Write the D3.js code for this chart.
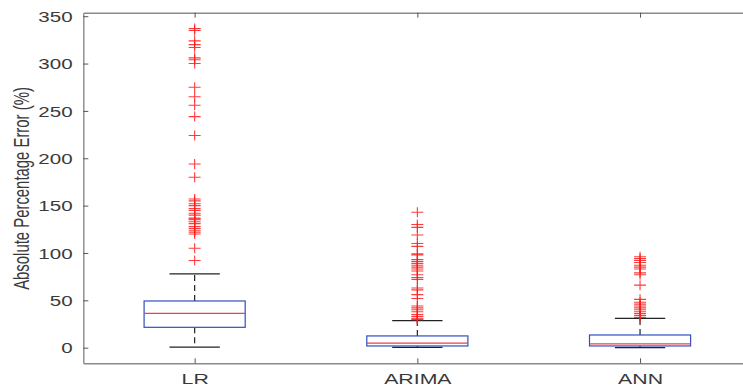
<!DOCTYPE html>
<html>
<head>
<meta charset="utf-8">
<script src="https://cdn.jsdelivr.net/npm/d3@7"></script>
<style>
  html, body { margin: 0; padding: 0; background: #fff; }
  svg { display: block; }
</style>
</head>
<body>
<script>
// Box plot of absolute percentage error per forecasting model
const categories = ["LR", "ARIMA", "ANN"];
const whiskerLow  = [0.5, 0.3, 0.1];
const q1          = [21.5, 1.8, 1.8];
const medians     = [36.3, 4.8, 4.0];
const q3          = [49.3, 12.4, 13.4];
const whiskerHigh = [78, 28.5, 31];

const outliersLR = [337, 335, 324, 320, 317, 306, 304, 300, 275, 265, 256, 244, 224,
  194, 180, 157, 155, 152, 150, 147, 145, 142, 140, 137, 136, 135, 133, 131, 128,
  126, 124, 122, 120, 105, 92];
const outliersARIMA = [143, 130, 127, 119, 110, 107, 99, 98, 93, 91, 89, 87, 85, 83,
  81, 77, 74, 72, 63, 61, 56, 52, 44, 42, 40, 38, 35, 33, 31, 30, 29.5];
const outliersANN = [96, 94, 92, 90, 87, 85, 83, 79, 77, 66, 51, 48, 46, 44, 42, 40,
  38, 36, 34, 32];
const outliers = [outliersLR, outliersARIMA, outliersANN];

const yTicks = [0, 50, 100, 150, 200, 250, 300, 350];
const yLabel = "Absolute Percentage Error (%)";

const W = 743, H = 388;
const mLeft = 83.3, mTop = 12.7, mBottom = 363.3, mRight = 751.4;
const stretch = 1.42;           // horizontal text stretch
const textColor = "#3a3a3a";
const axisColor = "#8a8a8a";
const font = "'Liberation Sans', Arial, Helvetica, sans-serif";

const svg = d3.select("body").append("svg")
  .attr("width", W).attr("height", H);

const x = d3.scaleLinear().domain([0.5, 3.5]).range([mLeft, mRight]);
const y = d3.scaleLinear().domain([-16.5, 353.7]).range([mBottom, mTop]);

const boxHalf = 0.227, capHalf = 0.113;

// Axes
const yAxis = svg.append("g")
  .attr("transform", `translate(${mLeft},0)`)
  .call(d3.axisLeft(y).tickValues(yTicks).tickSizeInner(-5).tickSizeOuter(0));

const xAxis = svg.append("g")
  .attr("transform", `translate(0,${mBottom})`)
  .call(d3.axisBottom(x).tickValues([1, 2, 3])
    .tickFormat(d => categories[d - 1]).tickSizeInner(-5).tickSizeOuter(0));

const topAxis = svg.append("g")
  .attr("transform", `translate(0,${mTop})`)
  .call(d3.axisTop(x).tickValues([1, 2, 3]).tickFormat("")
    .tickSizeInner(-5).tickSizeOuter(0));

[yAxis, xAxis, topAxis].forEach(g => {
  g.select(".domain").attr("stroke", axisColor).attr("stroke-width", 1.4);
  g.selectAll(".tick line").attr("stroke", "#555").attr("stroke-width", 1);
});

yAxis.selectAll(".tick text")
  .attr("x", -7.5).attr("dy", "0.36em")
  .attr("transform", `scale(${stretch},1)`)
  .attr("fill", textColor)
  .style("font-family", font).style("font-size", "14.5px");

xAxis.selectAll(".tick text")
  .attr("y", 21).attr("dy", 0)
  .attr("text-anchor", "middle")
  .attr("transform", `scale(${stretch},1)`)
  .attr("fill", textColor)
  .style("font-family", font).style("font-size", "15px");

svg.append("text")
  .attr("transform", `translate(28.5,${(87 + 290) / 2}) scale(${stretch},1) rotate(-90)`)
  .attr("text-anchor", "middle")
  .attr("fill", textColor)
  .style("font-family", font).style("font-size", "14.9px")
  .text(yLabel);

// Boxes
const plot = svg.append("g");
const groups = plot.selectAll("g.box")
  .data(categories.map((c, i) => ({
    pos: i + 1, lo: whiskerLow[i], q1: q1[i], med: medians[i],
    q3: q3[i], hi: whiskerHigh[i], out: outliers[i]
  })))
  .join("g").attr("class", "box");

// Dashed whiskers
groups.append("line")
  .attr("x1", d => x(d.pos)).attr("x2", d => x(d.pos))
  .attr("y1", d => y(d.q3)).attr("y2", d => y(d.hi))
  .attr("stroke", "#222").attr("stroke-width", 1.2).attr("stroke-dasharray", "6,4");
groups.append("line")
  .attr("x1", d => x(d.pos)).attr("x2", d => x(d.pos))
  .attr("y1", d => y(d.q1)).attr("y2", d => y(d.lo))
  .attr("stroke", "#222").attr("stroke-width", 1.2).attr("stroke-dasharray", "6,4");

// Whisker caps
["hi", "lo"].forEach(k => {
  groups.append("line")
    .attr("x1", d => x(d.pos - capHalf)).attr("x2", d => x(d.pos + capHalf))
    .attr("y1", d => y(d[k])).attr("y2", d => y(d[k]))
    .attr("stroke", "#222").attr("stroke-width", 1.2);
});

groups.append("rect")
  .attr("x", d => x(d.pos - boxHalf))
  .attr("width", d => x(d.pos + boxHalf) - x(d.pos - boxHalf))
  .attr("y", d => y(d.q3))
  .attr("height", d => y(d.q1) - y(d.q3))
  .attr("fill", "none").attr("stroke", "#2f4fbf").attr("stroke-width", 1.2);

groups.append("line")
  .attr("x1", d => x(d.pos - boxHalf)).attr("x2", d => x(d.pos + boxHalf))
  .attr("y1", d => y(d.med)).attr("y2", d => y(d.med))
  .attr("stroke", "#e8424f").attr("stroke-width", 1.2);

// Outlier '+' markers
groups.each(function(d) {
  d3.select(this).selectAll("path.out").data(d.out).join("path")
    .attr("class", "out")
    .attr("d", v => {
      const cx = x(d.pos), cy = y(v);
      return `M${cx - 6},${cy}H${cx + 6}M${cx},${cy - 5}V${cy + 5}`;
    })
    .attr("stroke", "#ff1a1a").attr("stroke-width", 1.1)
    .attr("stroke-opacity", 0.85).attr("fill", "none");
});
</script>
</body>
</html>
